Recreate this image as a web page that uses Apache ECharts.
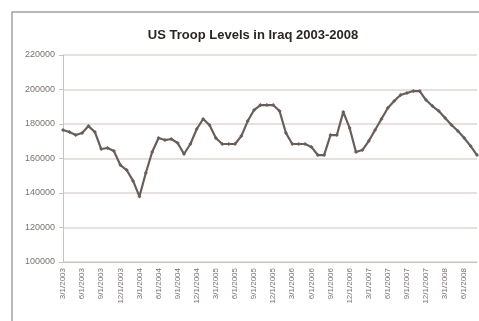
<!DOCTYPE html>
<html>
<head>
<meta charset="utf-8">
<script src="https://cdn.jsdelivr.net/npm/echarts@6/dist/echarts.min.js"></script>
<style>
html,body{margin:0;padding:0;background:#fff;}
#container{width:479px;height:321px;}
</style>
</head>
<body>
<div id="container"></div>
<script>
// months Mar 2003 .. Aug 2008
var months = [];
for (var y = 2003; y <= 2008; y++) {
	for (var m = 1; m <= 12; m++) {
		if (y == 2003 && m < 3) continue;
		if (y == 2008 && m > 8) continue;
		months.push(m + '/1/' + y);
	}
}
var troops = [
	176500, 175400, 173600, 174800, 178800, 175400, 165500, 166100, 164300, 156200,
	153300, 147000, 138000, 151600, 163800, 171900, 170700, 171300, 169000, 162600,
	168400, 177100, 182900, 179400, 171900, 168400, 168400, 168400, 173000, 181700,
	188100, 191000, 191000, 191000, 187500, 174800, 168400, 168400, 168400, 166700,
	162000, 162000, 173600, 173600, 187000, 177700, 163800, 164900, 170100, 176500,
	182900, 189300, 193300, 196800, 198000, 199100, 199100, 193900, 190400, 187500,
	183500, 179400, 175900, 171900, 167200, 162000
];
var yTicks = {min: 100000, max: 220000, step: 20000};

var myChart = echarts.init(document.getElementById('container'));
var option = {
	backgroundColor: '#fff',
	animation: false,
	title: {
		text: 'US Troop Levels in Iraq 2003-2008',
		left: 248,
		textAlign: 'center',
		top: 24,
		textStyle: {
			fontFamily: 'Liberation Sans',
			fontSize: 13,
			fontWeight: 'bold',
			color: '#2b2523'
		}
	},
	graphic: [{
		type: 'rect',
		shape: {x: 12, y: 12, width: 476, height: 320},
		style: {fill: 'none', stroke: '#a8a09c', lineWidth: 1.5},
		silent: true
	}],
	grid: {left: 63, right: 2, top: 55, bottom: 59},
	xAxis: {
		type: 'category',
		boundaryGap: false,
		data: months,
		axisLine: {lineStyle: {color: '#c9c3c0', width: 1}},
		axisTick: {show: false},
		axisLabel: {
			interval: 2,
			rotate: 90,
			fontSize: 8,
			fontFamily: 'Liberation Sans',
			color: '#7a7370',
			margin: 6
		}
	},
	yAxis: {
		type: 'value',
		min: yTicks.min,
		max: yTicks.max,
		interval: yTicks.step,
		axisLine: {show: true, lineStyle: {color: '#c9c3c0', width: 1}},
		axisTick: {show: true, length: 4, lineStyle: {color: '#c9c3c0'}},
		axisLabel: {
			fontSize: 9,
			fontFamily: 'Liberation Sans',
			color: '#7a7370',
			margin: 8,
			formatter: function(v){ return String(v); }
		},
		splitLine: {lineStyle: {color: '#dcd7d5', width: 1.5}}
	},
	series: [{
		type: 'line',
		data: troops,
		symbol: 'diamond',
		symbolSize: 4,
		itemStyle: {color: '#6a5e59'},
		lineStyle: {color: '#6a5e59', width: 2.2}
	}]
};
myChart.setOption(option);
</script>
</body>
</html>
